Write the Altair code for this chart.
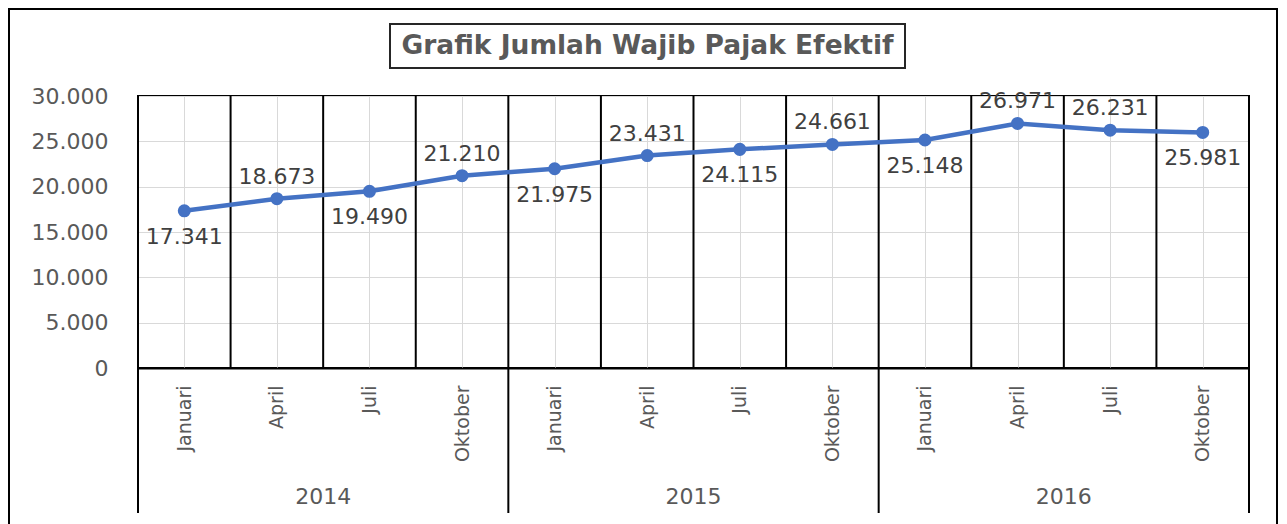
import altair as alt
import pandas as pd

title_text = "Grafik Jumlah Wajib Pajak Efektif"
months = ["Januari", "April", "Juli", "Oktober",
          "Januari", "April", "Juli", "Oktober",
          "Januari", "April", "Juli", "Oktober"]
years = ["2014", "2015", "2016"]
values = [17341, 18673, 19490, 21210, 21975, 23431,
          24115, 24661, 25148, 26971, 26231, 25981]
label_side = ["below", "above", "below", "above", "below", "above",
              "below", "above", "below", "above", "above", "below"]
y_ticks = [0, 5000, 10000, 15000, 20000, 25000, 30000]

n = len(months)
per_year = n // len(years)

df = pd.DataFrame({
    "pos": [i + 0.5 for i in range(n)],
    "month": months,
    "value": values,
    "label": [f"{v:,}".replace(",", ".") for v in values],
    "side": label_side,
})
bounds_df = pd.DataFrame({"b": list(range(n + 1))})
year_bounds_df = pd.DataFrame({"b": [k * per_year for k in range(len(years) + 1)]})
year_df = pd.DataFrame({"c": [k * per_year + per_year / 2 for k in range(len(years))],
                        "year": years})
one = pd.DataFrame({"a": [0]})

GRAY = "#595959"
BLUE = "#4472C4"
FONT = "DejaVu Sans"

month_expr = "[" + ",".join(f"'{m}'" for m in months) + "][floor(datum.value)]"

xscale = alt.Scale(domain=[0, n], nice=False, zero=False)
yscale = alt.Scale(domain=[0, 30000], nice=False)

x_axis = alt.Axis(
    values=[i + 0.5 for i in range(n)], labelExpr=month_expr, labelAngle=-90,
    labelFontSize=19, labelFont=FONT, labelColor=GRAY, labelPadding=17,
    ticks=False, domain=True, domainColor="black", domainWidth=2,
    grid=True, gridColor="#D9D9D9", gridWidth=1, title=None,
    labelFlush=False, labelOverlap=False,
)
y_axis = alt.Axis(
    values=y_ticks, labelExpr="replace(format(datum.value, ','), ',', '.')",
    labelFontSize=22, labelFont=FONT, labelColor=GRAY, labelPadding=30,
    ticks=False, domain=False, grid=True, gridColor="#D9D9D9", gridWidth=1,
    title=None, labelFlush=False,
)

frame = alt.Chart(one).mark_rect(fill="white", fillOpacity=0, stroke="black", strokeWidth=2).encode(
    x=alt.value(-129), x2=alt.value(1139), y=alt.value(-87), y2=alt.value(460))

title_box = alt.Chart(one).mark_rect(fill="white", fillOpacity=0, stroke="#262626", strokeWidth=2).encode(
    x=alt.value(252), x2=alt.value(767), y=alt.value(-72), y2=alt.value(-28))

title = alt.Chart(pd.DataFrame({"t": [title_text]})).mark_text(
    font=FONT, fontSize=26.5, fontWeight="bold", color=GRAY, align="center", baseline="middle"
).encode(text="t:N", x=alt.value(509.5), y=alt.value(-50))

base = alt.Chart(df)

line = base.mark_line(color=BLUE, strokeWidth=4.5,
                      point=alt.OverlayMarkDef(size=170, filled=True, color=BLUE, opacity=1)).encode(
    x=alt.X("pos:Q", scale=xscale, axis=x_axis),
    y=alt.Y("value:Q", scale=yscale, axis=y_axis),
)

bounds = alt.Chart(bounds_df).mark_rule(color="black", strokeWidth=2).encode(
    x=alt.X("b:Q", scale=xscale))

year_sep = alt.Chart(year_bounds_df).mark_rule(color="black", strokeWidth=2).encode(
    x=alt.X("b:Q", scale=xscale), y=alt.value(272), y2=alt.value(417))

year_text = alt.Chart(year_df).mark_text(
    font=FONT, fontSize=22, color=GRAY, align="center", baseline="middle"
).encode(x=alt.X("c:Q", scale=xscale), y=alt.value(401), text="year:N")

labels_above = base.transform_filter(alt.datum.side == "above").mark_text(
    font=FONT, fontSize=22, color="#404040", dy=-22, align="center", baseline="middle"
).encode(x=alt.X("pos:Q", scale=xscale), y=alt.Y("value:Q", scale=yscale), text="label:N")

labels_below = base.transform_filter(alt.datum.side == "below").mark_text(
    font=FONT, fontSize=22, color="#404040", dy=26, align="center", baseline="middle"
).encode(x=alt.X("pos:Q", scale=xscale), y=alt.Y("value:Q", scale=yscale), text="label:N")

chart = alt.layer(
    bounds, line, labels_above, labels_below, year_sep, year_text, frame, title_box, title
).properties(
    width=1111, height=272,
    padding={"left": 130, "top": 88, "right": 30, "bottom": 156},
    autosize=alt.AutoSizeParams(type="none"),
    background="white",
).configure_view(stroke="black", strokeWidth=2)

chart.save("out.html", embed_options={"renderer": "svg", "actions": False})
